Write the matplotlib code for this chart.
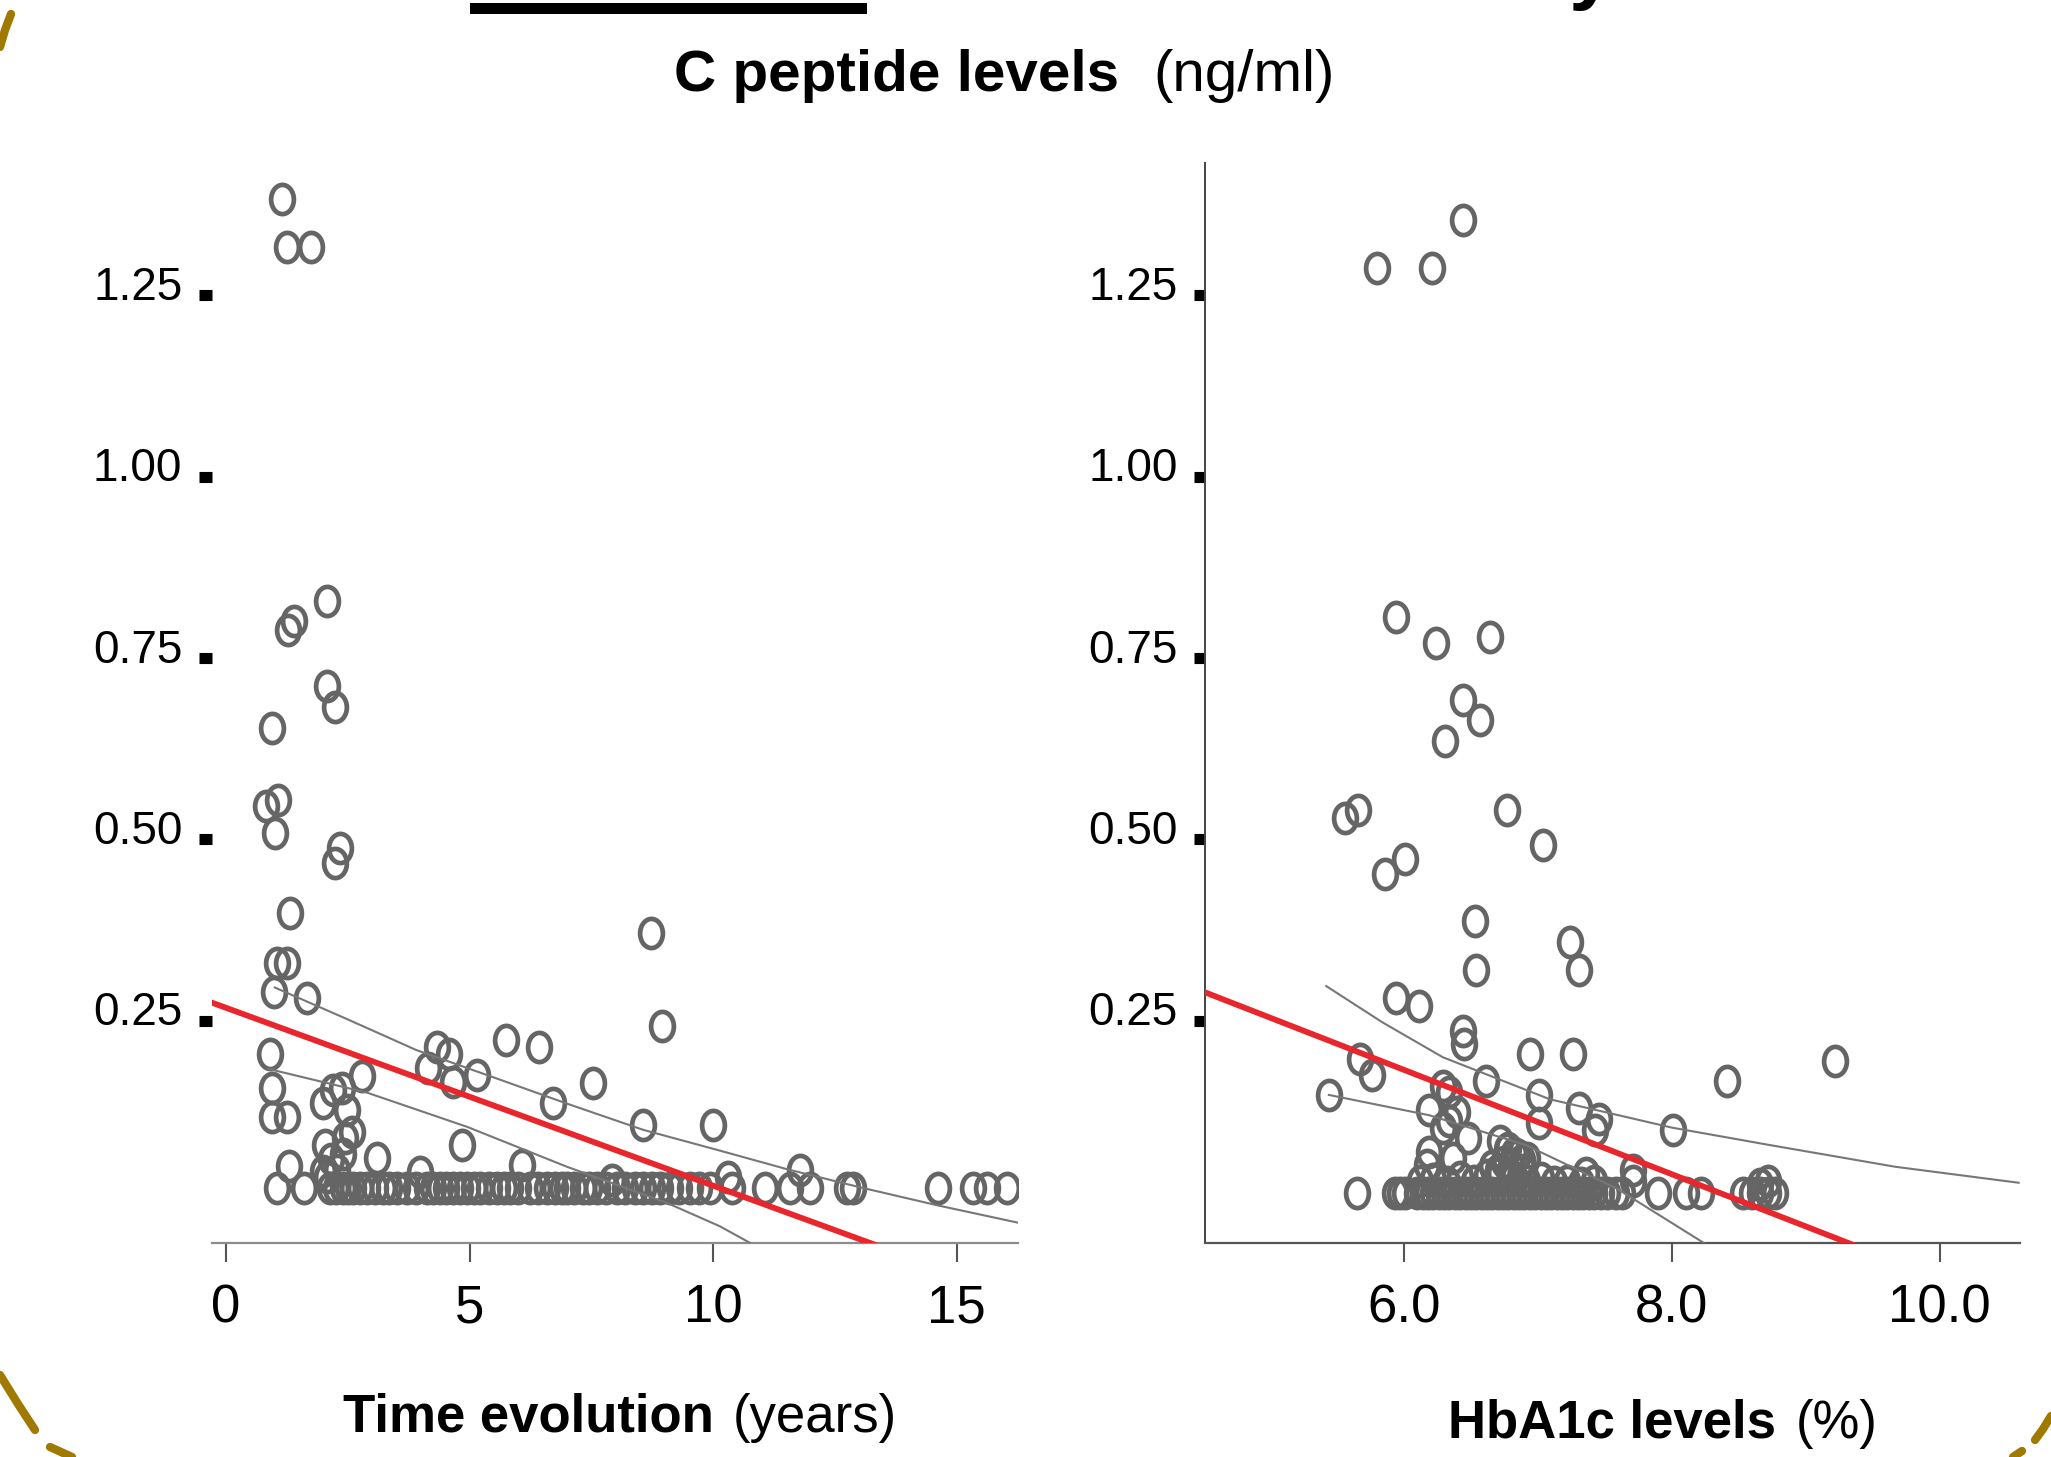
import numpy as np
import matplotlib
matplotlib.use("Agg")
import matplotlib.pyplot as plt
from matplotlib.path import Path
from matplotlib.lines import Line2D
from matplotlib.patches import Rectangle
from matplotlib import font_manager
import matplotlib.transforms as mtrans

W, H = 2051, 1457

avail = {f.name for f in font_manager.fontManager.ttflist}
NARROW = "Liberation Sans Narrow" in avail
BASE = "Liberation Sans"
plt.rcParams["font.family"] = [BASE, "DejaVu Sans"]

# ---- data ----
# left panel: time since diagnosis (years) vs C peptide (ng/ml)
time_yrs = [1.15, 1.25, 1.75, 2.07, 1.40, 1.27, 2.07, 2.24, 0.94, 1.07, 0.82, 1.00,
            2.34, 2.24, 1.31, 8.73, 1.05, 1.25, 0.99, 1.66, 8.95, 5.75, 6.43, 4.33,
            4.58, 4.15, 4.66, 5.15, 0.90, 7.54, 6.72, 8.56, 10.0, 2.79, 2.38, 2.20,
            1.99, 2.48, 2.59, 0.94, 0.94, 1.25, 2.03, 2.40, 4.85, 1.29, 3.10, 6.08,
            3.98, 2.07, 2.28, 7.93, 11.79, 10.30, 2.16, 2.45, 1.99]
cpep_time = [1.383, 1.316, 1.316, 0.828, 0.801, 0.789, 0.711, 0.682, 0.653, 0.555, 0.546, 0.509,
             0.488, 0.468, 0.399, 0.371, 0.330, 0.330, 0.290, 0.282, 0.243, 0.224, 0.214, 0.214,
             0.204, 0.185, 0.166, 0.176, 0.204, 0.164, 0.137, 0.107, 0.107, 0.174, 0.158, 0.155,
             0.137, 0.127, 0.097, 0.158, 0.118, 0.118, 0.079, 0.067, 0.079, 0.050, 0.061, 0.052,
             0.042, 0.035, 0.045, 0.031, 0.045, 0.035, 0.060, 0.088, 0.043]
# patients at the detection floor
time_floor = [1.05, 1.60, 2.14, 2.25, 2.40, 2.50, 2.61, 2.75, 2.90, 3.05, 3.22, 3.35, 3.51,
              3.72, 3.90, 4.13, 4.25, 4.39, 4.52, 4.66, 4.80, 4.95, 5.10, 5.22, 5.40, 5.56,
              5.70, 5.83, 6.00, 6.24, 6.40, 6.59, 6.75, 6.90, 7.00, 7.15, 7.33, 7.45, 7.62,
              7.80, 8.03, 8.20, 8.40, 8.56, 8.75, 8.90, 9.12, 9.30, 9.53, 9.70, 9.94, 10.39,
              11.07, 11.58, 11.99, 12.75, 12.87, 14.62, 15.34, 15.63, 16.04]
floor_time = 0.020

# right panel: HbA1c (%) vs C peptide (ng/ml)
hba1c = [6.44, 5.80, 6.21, 5.94, 6.24, 6.64, 6.44, 6.57, 6.31, 5.56, 5.66, 6.77, 7.04,
         5.86, 6.01, 6.53, 7.24, 7.31, 6.54, 5.94, 6.11, 6.44, 6.45, 6.94, 7.26, 8.41,
         9.22, 5.67, 5.76, 5.44, 7.01, 7.31, 8.01, 7.46, 7.43, 7.01, 6.61, 6.29, 6.34,
         6.19, 6.40, 6.29, 6.34, 6.48, 6.19, 6.17, 6.37, 6.77, 6.92, 6.75, 6.85, 6.70,
         7.36, 7.71, 7.71, 8.72, 8.66, 6.72, 6.78, 6.82, 6.88, 6.80, 6.90, 6.66,
         6.12, 6.22, 6.32, 6.42, 6.52, 6.62, 6.72, 6.82, 6.92, 7.02, 7.12, 7.22, 7.32, 7.42]
cpep_hba1c = [1.354, 1.287, 1.287, 0.807, 0.770, 0.779, 0.692, 0.664, 0.635, 0.530, 0.540, 0.540, 0.492,
              0.452, 0.473, 0.387, 0.359, 0.320, 0.320, 0.282, 0.270, 0.236, 0.218, 0.205, 0.205, 0.167,
              0.195, 0.197, 0.175, 0.148, 0.148, 0.130, 0.100, 0.115, 0.100, 0.109, 0.167, 0.160, 0.152,
              0.127, 0.125, 0.103, 0.112, 0.088, 0.070, 0.052, 0.061, 0.073, 0.061, 0.055, 0.065, 0.045,
              0.040, 0.045, 0.030, 0.030, 0.025, 0.085, 0.075, 0.068, 0.058, 0.050, 0.045, 0.050,
              0.030, 0.032, 0.028, 0.035, 0.030, 0.038, 0.040, 0.035, 0.030, 0.033, 0.028, 0.030, 0.027, 0.030]
hba1c_floor = [5.65, 5.93, 5.97, 6.01, 6.10, 6.14, 6.18, 6.22, 6.26, 6.30, 6.34, 6.38, 6.42,
               6.46, 6.50, 6.54, 6.58, 6.62, 6.66, 6.70, 6.74, 6.78, 6.82, 6.86, 6.90, 6.94,
               6.98, 7.02, 7.06, 7.10, 7.14, 7.18, 7.22, 7.26, 7.30, 7.34, 7.38, 7.42, 7.47,
               7.52, 7.58, 7.63, 7.90, 8.11, 8.22, 8.53, 8.60, 8.66, 8.72, 8.77]
floor_hba1c = 0.013

# regression lines (intercept at x=0, slope) and band curves
fit_time = (0.268, -0.0245)
fit_hba1c = (0.614, -0.0719)
band_time_up_x = [1.0, 2.5, 3.9, 5.5, 7.0, 8.56, 10.1, 11.5, 13.0, 14.6, 16.26]
band_time_up_y = [0.296, 0.252, 0.210, 0.172, 0.136, 0.100, 0.072, 0.046, 0.021, -0.004, -0.028]
band_time_lo_x = [0.86, 2.9, 4.95, 7.0, 9.06, 10.14, 10.76]
band_time_lo_y = [0.184, 0.151, 0.104, 0.049, -0.001, -0.033, -0.056]
band_hba_up_x = [5.42, 5.84, 6.29, 7.09, 8.0, 8.73, 9.67, 10.59]
band_hba_up_y = [0.298, 0.248, 0.200, 0.142, 0.103, 0.079, 0.049, 0.027]
band_hba_lo_x = [5.44, 6.19, 6.91, 7.59, 8.24]
band_hba_lo_y = [0.148, 0.120, 0.079, 0.019, -0.056]

yticks = [0.25, 0.50, 0.75, 1.00, 1.25]
ytick_labels = ["0.25", "0.50", "0.75", "1.00", "1.25"]
xticks_time = [0, 5, 10, 15]
xticks_hba = [6.0, 8.0, 10.0]
xtick_labels_hba = ["6.0", "8.0", "10.0"]

# ---- figure ----
fig = plt.figure(figsize=(W / 100, H / 100), dpi=100)


def fx(px):
    return px / W


def fy(py):
    return 1 - py / H


circ = Path.unit_circle()
oval = Path(circ.vertices * np.array([0.78, 1.0]), circ.codes)
GREY = "#656565"
RED = "#E8262C"

ax1 = fig.add_axes([fx(212), fy(1243), 806 / W, 1080 / H])
ax2 = fig.add_axes([fx(1205), fy(1243), 815 / W, 1080 / H])

panels = [
    (ax1, time_yrs, cpep_time, time_floor, floor_time, fit_time,
     (band_time_up_x, band_time_up_y), (band_time_lo_x, band_time_lo_y), (-0.29, 16.26)),
    (ax2, hba1c, cpep_hba1c, hba1c_floor, floor_hba1c, fit_hba1c,
     (band_hba_up_x, band_hba_up_y), (band_hba_lo_x, band_hba_lo_y), (4.515, 10.6)),
]

for ax, xs, ys, xfl, yfl, fit, up, lo, xlim in panels:
    ax.plot(xfl, np.full(len(xfl), yfl), ls="none", marker=oval, ms=21,
            mfc="none", mec=GREY, mew=3.4, zorder=2)
    ax.plot(xs, ys, ls="none", marker=oval, ms=21, mfc="none", mec=GREY, mew=3.4, zorder=2)
    ax.plot(up[0], up[1], color="#777777", lw=1.5, zorder=3)
    ax.plot(lo[0], lo[1], color="#777777", lw=1.5, zorder=3)
    xx = np.array(xlim)
    ax.plot(xx, fit[0] + fit[1] * xx, color=RED, lw=4.2, zorder=4)
    ax.set_xlim(*xlim)
    ax.set_ylim(-0.056, 1.432)
    ax.set_yticks(yticks)
    ax.set_yticklabels(ytick_labels)
    ax.spines["top"].set_visible(False)
    ax.spines["right"].set_visible(False)
    ax.tick_params(axis="y", direction="out", length=9.4, width=8, color="black",
                   labelsize=33, pad=12)
    ax.tick_params(axis="x", direction="out", length=13.5, width=1.5, color="#555555",
                   labelsize=38, pad=16)
    ax.patch.set_alpha(0)

ax1.set_xticks(xticks_time)
ax1.spines["left"].set_visible(False)
ax1.spines["bottom"].set_color("#8c8c8c")
ax1.spines["bottom"].set_linewidth(1.6)

ax2.set_xticks(xticks_hba)
ax2.set_xticklabels(xtick_labels_hba)
ax2.spines["left"].set_color("#444444")
ax2.spines["left"].set_linewidth(1.4)
ax2.spines["bottom"].set_color("#555555")
ax2.spines["bottom"].set_linewidth(1.6)
ax2.tick_params(axis="y", length=8, pad=11.5)

# y labels sit on the tick square's baseline
shift = mtrans.ScaledTranslation(0, -4.5 / 100, fig.dpi_scale_trans)
for ax in (ax1, ax2):
    for lbl in ax.get_yticklabels():
        lbl.set_va("baseline")
        lbl.set_transform(lbl.get_transform() + shift)

# ---- texts ----
tfam = ["Liberation Sans Narrow", BASE] if NARROW else [BASE]
tsize = 51 if NARROW else 42
fig.text(fx(674), fy(91), "C peptide levels", family=tfam, fontsize=tsize,
         fontweight="bold", ha="left", va="baseline")
fig.text(fx(1335), fy(91), "(ng/ml)", family=tfam, fontsize=tsize,
         ha="right", va="baseline")

fig.text(fx(343), fy(1432), "Time evolution", fontsize=38, fontweight="bold",
         ha="left", va="baseline")
fig.text(fx(897), fy(1432), "(years)", fontsize=38, ha="right", va="baseline")
fig.text(fx(1448), fy(1438), "HbA1c levels", fontsize=38, fontweight="bold",
         ha="left", va="baseline")
fig.text(fx(1878), fy(1438), "(%)", fontsize=38, ha="right", va="baseline")

# slide remnants: heading bar, clipped letter, gold frame pieces
fig.add_artist(Rectangle((fx(470), fy(14)), 397 / W, 11 / H, transform=fig.transFigure,
                         color="black", lw=0))
fig.text(fx(1568), fy(-6), "y", fontsize=60, fontweight="bold", ha="left", va="baseline")

GOLD = "#A07A00"
gold_pieces = [
    [(0, 47), (5, 30), (11, 14)],
    [(0, 1375), (18, 1404), (35, 1430)],
    [(50, 1447), (72, 1457)],
    [(2051, 1416), (2043, 1429), (2035, 1440)],
    [(2022, 1451), (2013, 1457)],
]
for seg in gold_pieces:
    px = [fx(p[0]) for p in seg]
    py = [fy(p[1]) for p in seg]
    fig.add_artist(Line2D(px, py, transform=fig.transFigure, color=GOLD, lw=6,
                          solid_capstyle="round"))

fig.savefig("out.png", dpi=100)
